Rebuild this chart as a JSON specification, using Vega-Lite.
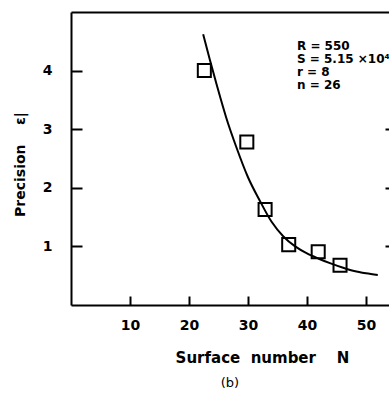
{
  "$schema": "https://vega.github.io/schema/vega-lite/v6.json",
  "autosize": "none",
  "width": 318,
  "height": 293,
  "padding": {"left": 71, "top": 12, "right": 0, "bottom": 88},
  "background": "white",
  "config": {
    "view": {"stroke": null},
    "font": "DejaVu Sans",
    "axis": {"domainColor": "black", "domainWidth": 2, "tickColor": "black", "tickWidth": 2, "grid": false, "labelColor": "black", "titleColor": "black", "labelFont": "DejaVu Sans", "labelFontWeight": "bold", "labelFontSize": 14, "titleFont": "DejaVu Sans", "titleFontWeight": "bold"}
  },
  "title": {"text": "(b)", "orient": "bottom", "anchor": "middle", "font": "DejaVu Sans", "fontSize": 13, "fontWeight": "normal", "color": "black", "offset": 12},
  "datasets": {
    "curve": [
      {"N": 22.4, "eps": 4.62}, {"N": 23.5, "eps": 4.2}, {"N": 24.8, "eps": 3.72}, {"N": 26.3, "eps": 3.2},
      {"N": 28, "eps": 2.7}, {"N": 30, "eps": 2.18}, {"N": 32, "eps": 1.78}, {"N": 34, "eps": 1.42},
      {"N": 36, "eps": 1.17}, {"N": 38, "eps": 1.0}, {"N": 40, "eps": 0.88}, {"N": 42, "eps": 0.79},
      {"N": 44, "eps": 0.71}, {"N": 46, "eps": 0.64}, {"N": 48, "eps": 0.58}, {"N": 50, "eps": 0.54}, {"N": 52, "eps": 0.51}
    ],
    "points": [
      {"N": 22.6, "eps": 4.0}, {"N": 29.8, "eps": 2.78}, {"N": 32.9, "eps": 1.63},
      {"N": 36.9, "eps": 1.03}, {"N": 41.9, "eps": 0.91}, {"N": 45.6, "eps": 0.68}
    ],
    "notes": [
      {"N": 38.3, "eps": 4.42, "label": "R = 550"},
      {"N": 38.3, "eps": 4.2, "label": "S = 5.15 ×10⁴"},
      {"N": 38.3, "eps": 3.98, "label": "r = 8"},
      {"N": 38.3, "eps": 3.76, "label": "n = 26"}
    ]
  },
  "layer": [
    {
      "data": {"name": "curve"},
      "mark": {"type": "line", "color": "black", "strokeWidth": 2, "interpolate": "monotone"},
      "encoding": {
        "x": {"field": "N", "type": "quantitative", "scale": {"domain": [0, 53.9], "nice": false, "zero": false},
          "axis": {"orient": "bottom", "values": [10, 20, 30, 40, 50], "tickSize": -9, "labelPadding": 22, "title": "Surface\u00a0\u00a0number\u00a0\u00a0\u00a0\u00a0N", "titleFontSize": 15, "titleX": 191, "titleY": 52, "titleBaseline": "middle", "titleAlign": "center"}},
        "y": {"field": "eps", "type": "quantitative", "scale": {"domain": [0, 5], "nice": false},
          "axis": {"orient": "left", "values": [1, 2, 3, 4], "tickSize": -11, "labelPadding": 30, "title": "Precision\u00a0\u00a0\u00a0\u00a0ε|", "titleFontSize": 14, "titleX": -51, "titleY": 152, "titleAlign": "center", "titleBaseline": "middle", "titleAngle": 270}}
      }
    },
    {
      "data": {"name": "points"},
      "mark": {"type": "point", "shape": "square", "filled": false, "color": "black", "strokeWidth": 2, "size": 170, "opacity": 1},
      "encoding": {
        "x": {"field": "N", "type": "quantitative", "axis": {"orient": "top", "ticks": false, "labels": false, "title": null, "domainWidth": 2}},
        "y": {"field": "eps", "type": "quantitative", "axis": {"orient": "right", "values": [1, 2, 3], "tickSize": -4, "domain": false, "labels": false, "title": null}}
      }
    },
    {
      "data": {"name": "notes"},
      "mark": {"type": "text", "align": "left", "baseline": "middle", "font": "DejaVu Sans", "fontWeight": "bold", "fontSize": 12, "color": "black"},
      "encoding": {
        "x": {"field": "N", "type": "quantitative", "axis": null},
        "y": {"field": "eps", "type": "quantitative", "axis": null},
        "text": {"field": "label"}
      }
    }
  ]
}
